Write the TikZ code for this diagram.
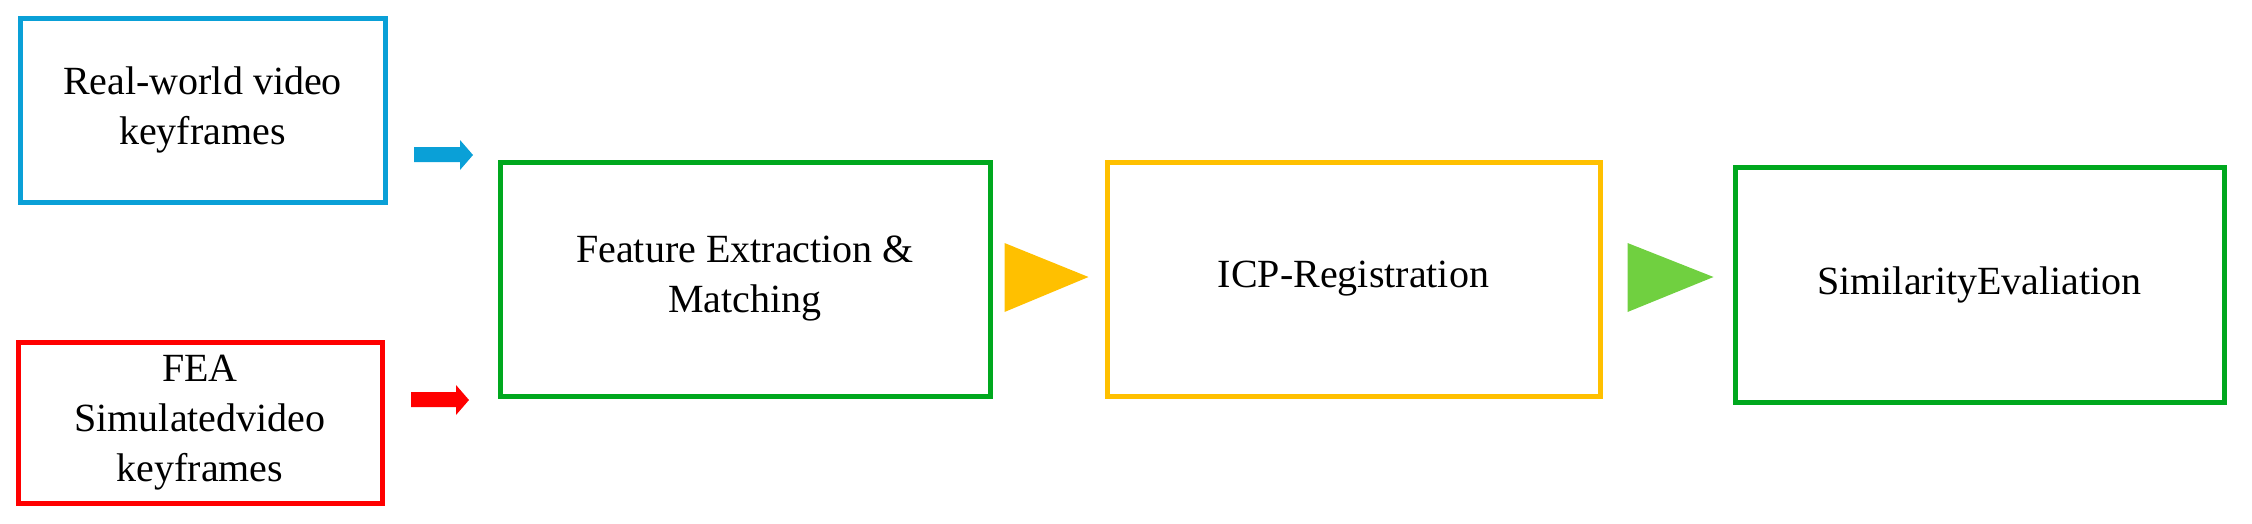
\documentclass[tikz,border=0pt]{standalone}
\usepackage{fontspec}
\usetikzlibrary{calc}
\setmainfont{Liberation Serif}
\definecolor{cblue}{RGB}{10,160,215}
\definecolor{cred}{RGB}{255,0,0}
\definecolor{cgreen}{RGB}{0,168,30}
\definecolor{cyel}{RGB}{255,192,0}
\definecolor{clg}{RGB}{112,208,64}
\begin{document}
\begin{tikzpicture}[x=1pt,y=-1pt,
  box/.style={draw,line width=5pt,inner sep=0pt,align=center,font=\fontsize{40}{50}\selectfont}]
\useasboundingbox (0,0) rectangle (2252,523);
\node[box,draw=cblue,minimum width=365,minimum height=184] (rw) at (202.5,110) {Real-world video\\keyframes};
\node[box,draw=cred,minimum width=364,minimum height=161] (fea) at (200,422.5) {FEA\\Simulatedvideo\\keyframes};
\node[box,draw=cgreen,minimum width=490,minimum height=234] (fem) at (745,279) {Feature Extraction \&\\Matching};
\node[box,draw=cyel,minimum width=493,minimum height=234] (icp) at (1353.5,279) {ICP-Registration};
\node[box,draw=cgreen,minimum width=489,minimum height=235] (sim) at (1979.5,284.5) {SimilarityEvaliation};
\coordinate (ba) at (414,155);
\coordinate (ra) at (411,400);
\fill[cblue] (ba) ++(0,-8) -- ++(46,0) -- ++(0,-7) -- ++(13,15) -- ++(-13,15) -- ++(0,-8) -- ++(-46,0) -- cycle;
\fill[cred] (ra) ++(0,-8) -- ++(45,0) -- ++(0,-7) -- ++(13,15) -- ++(-13,15) -- ++(0,-8) -- ++(-45,0) -- cycle;
\fill[cyel] ($(fem.east)+(12,-36)$) -- ($(fem.east)+(96,-2)$) -- ($(fem.east)+(12,33)$) -- cycle;
\fill[clg] ($(icp.east)+(25,-36)$) -- ($(icp.east)+(111,-2)$) -- ($(icp.east)+(25,33)$) -- cycle;
\end{tikzpicture}
\end{document}
